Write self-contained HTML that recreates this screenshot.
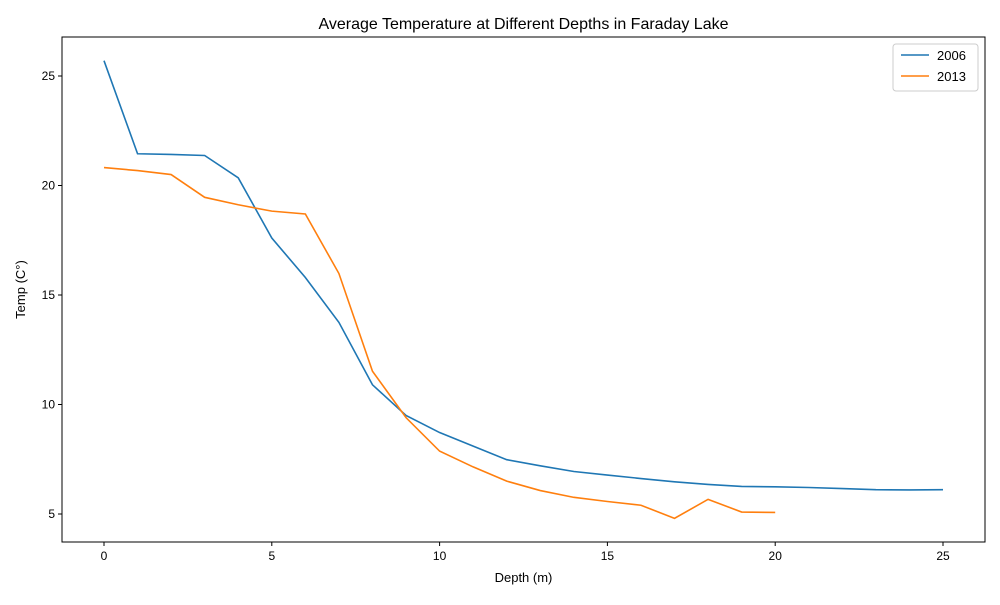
<!DOCTYPE html>
<html><head><meta charset="utf-8"><style>body{margin:0;background:#fff}svg{font-family:"Liberation Sans","DejaVu Sans",sans-serif}</style></head>
<body>
<svg id="chart" width="1000" height="600" xmlns="http://www.w3.org/2000/svg">
<rect width="1000" height="600" fill="#fff"/>
<text x="523.5" y="29" text-anchor="middle" font-size="16">Average Temperature at Different Depths in Faraday Lake</text>
<g id="plot"></g>
<text x="523.5" y="582" text-anchor="middle" font-size="13">Depth (m)</text>
<text transform="translate(25,289.5) rotate(-90)" text-anchor="middle" font-size="13">Temp (C°)</text>
</svg>
<script>
const depths2006=[0,1,2,3,4,5,6,7,8,9,10,11,12,13,14,15,16,17,18,19,20,21,22,23,24,25];
const temps2006=[25.7,21.45,21.42,21.37,20.35,17.6,15.8,13.75,10.9,9.5,8.72,8.1,7.48,7.2,6.94,6.78,6.62,6.47,6.35,6.26,6.24,6.21,6.16,6.11,6.1,6.11];
const depths2013=[0,1,2,3,4,5,6,7,8,9,10,11,12,13,14,15,16,17,18,19,20];
const temps2013=[20.82,20.68,20.5,19.46,19.12,18.83,18.7,15.98,11.52,9.4,7.87,7.15,6.5,6.07,5.76,5.57,5.4,4.8,5.67,5.09,5.07];
const xTicks=[0,5,10,15,20,25];
const yTicks=[5,10,15,20,25];
const L=62,R=985,T=37,B=542;
const X=v=>104+v*(943-104)/25;
const Y=v=>514-(v-5)*(514-76)/20;
const NS="http://www.w3.org/2000/svg";
const g=document.getElementById('plot');
function mk(tag,at){const e=document.createElementNS(NS,tag);for(const k in at)e.setAttribute(k,at[k]);g.appendChild(e);return e;}
xTicks.forEach(t=>{
 const l=mk('line',{x1:X(t),x2:X(t),y1:B,y2:B+4,stroke:'#000'});
 
 
 const tx=mk('text',{x:X(t),y:B+18,'text-anchor':'middle','font-size':12});
 tx.textContent=t;
 
 
});
yTicks.forEach(t=>{
 const l=mk('line',{x1:L-4,x2:L,y1:Y(t),y2:Y(t),stroke:'#000'});
 
 
 const tx=mk('text',{x:L-7,y:Y(t)+4,'text-anchor':'end','font-size':12});
 tx.textContent=t;
 
 
});
function series(xs,ys,c,n){
 const p=mk('polyline',{points:xs.map((x,i)=>X(x)+','+Y(ys[i])).join(' '),fill:'none',stroke:c,'stroke-width':1.6});
 
 
}
series(depths2006,temps2006,'#1f77b4','line-2006');
series(depths2013,temps2013,'#ff7f0e','line-2013');
const fr=mk('rect',{x:L,y:T,width:R-L,height:B-T,fill:'none',stroke:'#000','stroke-width':1});


const lg=mk('rect',{x:893,y:44,width:85,height:47,fill:'#fff',stroke:'#ccc',rx:3});


[['2006','#1f77b4',60],['2013','#ff7f0e',81]].forEach(([n,c,y])=>{
 const l=mk('line',{x1:901,x2:929,y1:y-5,y2:y-5,stroke:c,'stroke-width':1.6});
 
 
 const t=mk('text',{x:937,y:y,'font-size':13});
 t.textContent=n;
 
 
});
</script>
</body></html>
